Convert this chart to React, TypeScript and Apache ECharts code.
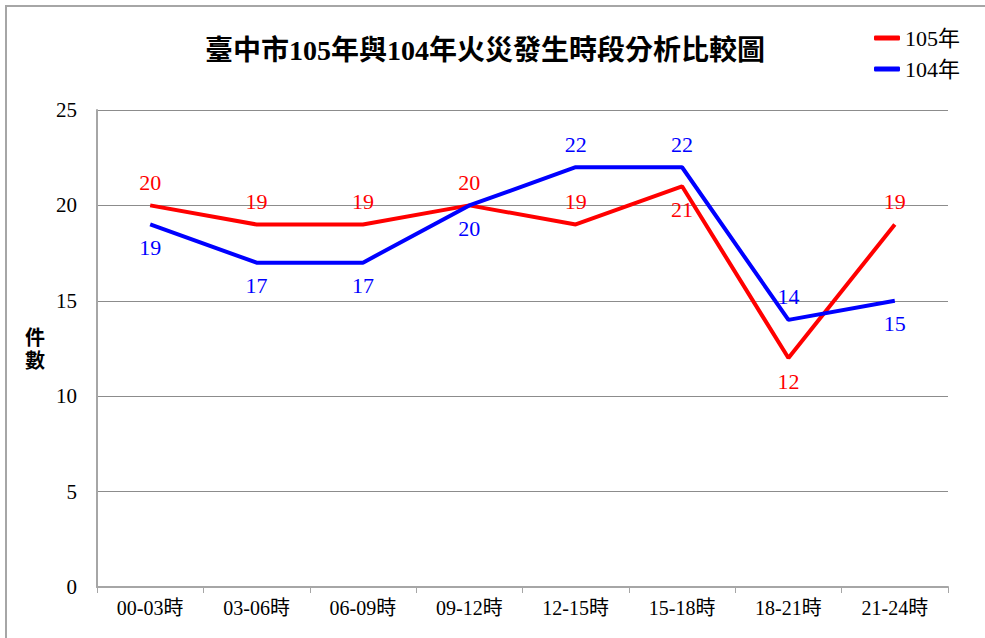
import React, { useEffect, useRef } from "react";
import * as echarts from "echarts";

const categories = ["00-03時", "03-06時", "06-09時", "09-12時", "12-15時", "15-18時", "18-21時", "21-24時"];
const values105 = [20, 19, 19, 20, 19, 21, 12, 19];
const values104 = [19, 17, 17, 20, 22, 22, 14, 15];
const labelPos105 = ["top", "top", "top", "top", "top", "bottom", "bottom", "top"];
const labelPos104 = ["bottom", "bottom", "bottom", "bottom", "top", "top", "top", "bottom"];

const FONT = "Liberation Serif, Times New Roman, Noto Sans CJK TC, serif";

export default function App() {
  const ref = useRef<HTMLDivElement>(null);
  useEffect(() => {
    if (!ref.current) return;
    const chart = echarts.init(ref.current, undefined, { renderer: "svg" });
    const mk = (vals: number[], pos: string[]) =>
      vals.map((v, i) => ({ value: v, label: { position: pos[i] } }));
    chart.setOption({
      animation: false,
      backgroundColor: "#ffffff",
      title: {
        text: "臺中市105年與104年火災發生時段分析比較圖",
        left: 480,
        textAlign: "center",
        top: 31,
        textStyle: { fontFamily: FONT, fontSize: 28, fontWeight: "bold", color: "#000" },
      },
      legend: {
        orient: "vertical",
        left: 869,
        top: 22,
        itemGap: 9,
        itemWidth: 26,
        itemHeight: 5,
        icon: "roundRect",
        textStyle: { fontFamily: FONT, fontSize: 22, color: "#000" },
        data: ["105年", "104年"],
      },
      graphic: [
        {
          type: "rect",
          shape: { x: 6, y: 6, width: 990, height: 650 },
          style: { fill: "none", stroke: "#a6a6a6", lineWidth: 2 },
          silent: true,
        },
        {
          type: "text",
          left: 25,
          top: 326,
          style: { text: "件\n數", fontFamily: FONT, fontSize: 20, fontWeight: "bold", fill: "#000", lineHeight: 23 },
        },
      ],
      grid: { left: 97, right: 37, top: 110, bottom: 51, containLabel: false },
      xAxis: {
        type: "category",
        data: categories,
        boundaryGap: true,
        axisLine: { lineStyle: { color: "#a6a6a6", width: 2 } },
        axisTick: { show: true, length: 6, lineStyle: { color: "#a6a6a6" } },
        axisLabel: { fontFamily: FONT, fontSize: 20, color: "#000", margin: 11 },
      },
      yAxis: {
        type: "value",
        min: 0,
        max: 25,
        interval: 5,
        axisLine: { show: true, lineStyle: { color: "#a6a6a6", width: 2 } },
        axisTick: { show: false },
        axisLabel: { fontFamily: FONT, fontSize: 21, color: "#000", margin: 20 },
        splitLine: { show: true, lineStyle: { color: "#8c8c8c", width: 1 } },
      },
      series: [
        {
          name: "105年",
          type: "line",
          data: mk(values105, labelPos105),
          symbol: "circle",
          symbolSize: 0,
          showSymbol: true,
          color: "#ff0000",
          lineStyle: { width: 4, color: "#ff0000" },
          label: { show: true, fontFamily: FONT, fontSize: 22, color: "#ff0000", distance: 12 },
          z: 3,
        },
        {
          name: "104年",
          type: "line",
          data: mk(values104, labelPos104),
          symbol: "circle",
          symbolSize: 0,
          showSymbol: true,
          color: "#0000ff",
          lineStyle: { width: 4, color: "#0000ff" },
          label: { show: true, fontFamily: FONT, fontSize: 22, color: "#0000ff", distance: 12 },
          z: 4,
        },
      ],
    });
    return () => chart.dispose();
  }, []);
  return (
    <div
      ref={ref}
      style={{ position: "fixed", left: 0, top: 0, width: 985, height: 638, background: "#fff" }}
    />
  );
}
